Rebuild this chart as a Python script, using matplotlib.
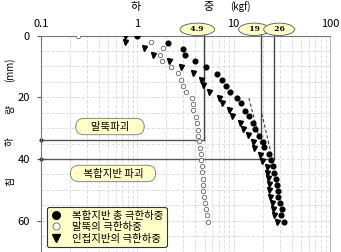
import matplotlib
matplotlib.use("Agg")
import matplotlib.pyplot as plt
from matplotlib.ticker import LogLocator, FixedLocator, NullFormatter

plt.rcParams['font.family'] = ['Noto Sans CJK KR', 'DejaVu Sans']

# 복합지반 총 극한하중 (filled circles)
comp_depth = [0, 2.3, 4.5, 6.3, 8.3, 10.3, 12.4, 14.3, 16.2, 18.2, 20.2, 22.0, 24.3, 26.2,
              28.4, 30.3, 32.4, 34.5, 36.2, 38.4, 40.2, 42.3, 44.4, 46.5, 48.4, 50.4,
              52.3, 54.3, 56.2, 58.0, 60.3]
comp_load = [1.0, 2.1, 3.0, 3.1, 4.0, 5.2, 6.7, 7.6, 8.3, 9.2, 10.8, 12.0, 13.2, 14.5,
             15.9, 16.5, 18.5, 20.4, 20.7, 23.5, 24.2, 25.6, 26.5, 27.4, 28.2, 28.7,
             29.0, 30.5, 31.8, 30.8, 33.7]

# 말뚝의 극한하중 (open circles)
pile_depth = [0, 2.2, 4.2, 6.3, 8.2, 10.3, 12.3, 14.3, 16.2, 18.2, 20.2, 22.1, 24.1, 26.4,
              28.5, 30.7, 32.5, 34.3, 36.3, 38.4, 40.3, 42.2, 44.3, 46.4, 48.4, 50.3,
              52.3, 54.4, 56.2, 58.3, 60.3]
pile_load = [0.24, 1.37, 1.83, 1.72, 1.79, 2.25, 2.65, 2.86, 2.98, 3.18, 3.66, 3.75, 3.8,
             4.05, 4.2, 4.3, 4.3, 4.35, 4.45, 4.55, 4.6, 4.65, 4.65, 4.75, 4.8, 4.85,
             4.9, 5.0, 5.15, 5.3, 5.45]

# 인접지반의 극한하중 (triangles)
adj_depth = [0, 2.2, 4.2, 6.3, 8.2, 10.2, 12.3, 14.5, 16.0, 18.3, 20.2, 22.0, 24.0, 26.2,
             28.2, 30.2, 32.3, 34.6, 36.6, 38.7, 40.5, 42.7, 44.4, 46.3, 48.1, 50.2,
             52.2, 54.3, 56.2, 58.3, 60.5]
adj_load = [0.75, 0.75, 1.17, 1.45, 2.15, 2.85, 3.75, 4.6, 4.8, 5.6, 7.0, 7.5, 9.0, 9.7,
            11.5, 12.6, 14.0, 15.8, 16.1, 18.9, 19.6, 22.0, 22.2, 22.8, 23.4, 23.2,
            23.7, 24.9, 25.4, 26.2, 28.0]

# ultimate loads, where their labels sit, and failure settlements
ult_loads = [4.9, 19, 26]
ult_label_x = [4.2, 16.3, 29.6]
ult_depths = [34, 34, 40]
fail_labels = ['말뚝파괴', '복합지반 파괴']
fail_depths = [34, 40]
fail_ends = [4.9, 26]

# dashed tangent lines
tan1_x = [14.4, 19.3]
tan1_y = [20.3, 35.7]
tan2_x = [19.6, 25.0]
tan2_y = [25.3, 39.5]

fig = plt.figure(figsize=(3.41, 2.52), dpi=100)
ax = fig.add_axes([41 / 341, -0.002, 289 / 341, 217 / 252])

ax.set_xscale('log')
ax.set_xlim(0.1, 100)
ax.set_ylim(70.3, 0)

ax.xaxis.set_major_locator(LogLocator(base=10))
ax.xaxis.set_minor_locator(LogLocator(base=10, subs=range(2, 10)))
ax.xaxis.set_minor_formatter(NullFormatter())
ax.xaxis.set_major_formatter(plt.FuncFormatter(lambda v, p: f'{v:g}'))
ax.xaxis.tick_top()
ax.tick_params(axis='x', which='both', length=0, labelsize=8, pad=5)
ax.yaxis.set_major_locator(FixedLocator([0, 20, 40, 60]))
ax.yaxis.set_minor_locator(FixedLocator(list(range(5, 70, 5))))
ax.tick_params(axis='y', which='major', length=3, width=0.8, color='#555555',
               labelsize=8, pad=5)
ax.tick_params(axis='y', which='minor', length=0)

ax.grid(True, which='both', linestyle=(0, (4, 2)), color='#d8d8d8', linewidth=0.6)
ax.set_axisbelow(True)
for side in ['left', 'top']:
    ax.spines[side].set_color('#777777')
ax.spines['right'].set_color('#bbbbbb')
ax.spines['bottom'].set_visible(False)

# failure lines
for d, xe in zip(fail_depths, fail_ends):
    ax.plot([0.1, xe], [d, d], color='#555555', lw=1.0, clip_on=False, zorder=2)
    ax.plot([0.1], [d], marker='o', ms=2, color='#333333', clip_on=False, zorder=2)
for xl, xt, d in zip(ult_loads, ult_label_x, ult_depths):
    ax.plot([xl, xl], [-0.5, d], color='#444444', lw=1.0, clip_on=False, zorder=2)
    ax.text(xt, -2.0, '  ' + f'{xl:g}' + '  ', ha='center', va='center',
            fontsize=5.5, fontweight='bold', family='DejaVu Serif',
            bbox=dict(boxstyle='ellipse,pad=0.05', fc='#ffffc8', ec='#555555', lw=0.6))

ax.plot(tan1_x, tan1_y, color='#444444', lw=0.8, ls=(0, (3, 2)))
ax.plot(tan2_x, tan2_y, color='#444444', lw=0.8, ls=(0, (3, 2)))

ax.plot(comp_load, comp_depth, 'o', color='black', ms=3.4, ls='none',
        label='복합지반 총 극한하중', zorder=4)
ax.plot(pile_load, pile_depth, 'o', mfc='white', mec='#666666', mew=0.6, ms=3.2,
        ls='none', label='말뚝의 극한하중', zorder=4)
ax.plot(adj_load, adj_depth, 'v', color='black', ms=3.6, ls='none',
        label='인접지반의 극한하중', zorder=4)

# failure text boxes
box = dict(boxstyle='round,pad=0.3,rounding_size=0.8', fc='#ffffc8', ec='#888888', lw=0.7)
ax.text(0.52, 29.5, '     ' + fail_labels[0] + '     ', ha='center', va='center',
        fontsize=7.5, bbox=box)
ax.text(0.56, 44.7, '    ' + fail_labels[1] + '    ', ha='center', va='center',
        fontsize=7.5, bbox=box)

leg = ax.legend(loc='lower left', bbox_to_anchor=(0.003, 0.0), fontsize=7.5,
                frameon=True, fancybox=True, handletextpad=1.0, borderpad=0.35,
                labelspacing=0.15, handlelength=1.0, markerscale=1.6)
leg.get_frame().set_facecolor('#ffffc8')
leg.get_frame().set_edgecolor('#333333')
leg.get_frame().set_linewidth(0.8)
leg.get_frame().set_alpha(1)

# axis titles
fig.text(136 / 341, 1 - 7 / 252, '하', ha='center', va='center', fontsize=8)
fig.text(209 / 341, 1 - 7 / 252, '중', ha='center', va='center', fontsize=8)
fig.text(240 / 341, 1 - 7 / 252, '(kgf)', ha='center', va='center', fontsize=7)
for txt, yp in [('(mm)', 70), ('량', 110), ('하', 141), ('침', 182)]:
    fig.text(10 / 341, 1 - yp / 252, txt, ha='center', va='center', fontsize=7,
             rotation=90)

fig.savefig('out.png', dpi=100)
